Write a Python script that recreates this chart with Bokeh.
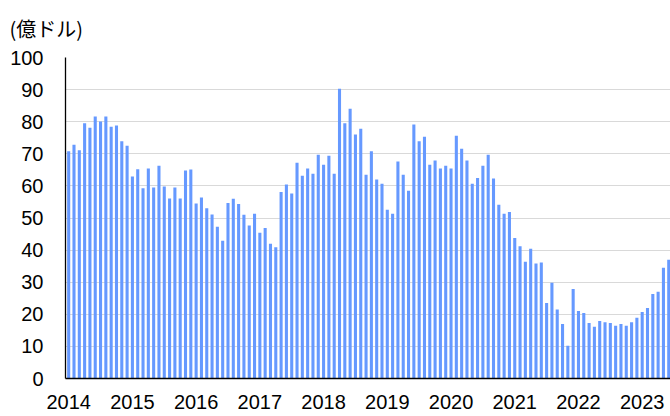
from bokeh.plotting import figure
from bokeh.models import FixedTicker, Range1d
from bokeh.embed import file_html
from bokeh.resources import INLINE

# Monthly values (億ドル), Jan 2014 - Jun 2023
v2014 = [70.8, 72.8, 71.1, 79.5, 78.1, 81.6, 80.1, 81.6, 78.4, 78.8, 73.9, 72.5]
v2015 = [62.9, 65.2, 59.3, 65.4, 59.5, 66.3, 59.8, 56.1, 59.5, 56.1, 64.8, 65.1]
v2016 = [54.5, 56.4, 53.0, 51.1, 47.3, 42.9, 54.7, 56.0, 54.4, 51.0, 47.7, 51.3]
v2017 = [45.4, 46.9, 42.0, 40.9, 58.1, 60.4, 57.6, 67.2, 63.2, 65.4, 63.8, 69.7]
v2018 = [66.6, 69.4, 63.8, 90.3, 79.5, 84.0, 76.0, 77.8, 63.5, 70.8, 62.0, 60.7]
v2019 = [52.6, 51.3, 67.6, 63.5, 58.5, 79.1, 73.9, 75.3, 66.6, 67.9, 65.4, 66.3]
v2020 = [65.4, 75.6, 71.6, 67.9, 60.7, 62.5, 66.3, 69.7, 62.3, 54.1, 51.3, 51.9]
v2021 = [43.8, 41.2, 36.4, 40.4, 35.8, 36.1, 23.5, 29.8, 21.5, 17.0, 10.2, 27.9]
v2022 = [21.0, 20.4, 17.3, 16.1, 17.9, 17.5, 17.3, 16.4, 17.0, 16.4, 17.5, 18.9]
v2023 = [20.7, 22.0, 26.3, 27.0, 34.5, 37.0]

year_labels = ["2014", "2015", "2016", "2017", "2018", "2019", "2020", "2021", "2022", "2023"]
y_ticks = [0, 10, 20, 30, 40, 50, 60, 70, 80, 90, 100]

values = v2014 + v2015 + v2016 + v2017 + v2018 + v2019 + v2020 + v2021 + v2022 + v2023
months = list(range(len(values)))
year_ticks = [12 * i for i in range(len(year_labels))]

FONT = "Liberation Sans"

p = figure(width=670, height=416, output_backend="svg", toolbar_location=None,
           x_range=Range1d(-0.6, 113.33), y_range=Range1d(0, 100),
           min_border_left=65, min_border_right=0, min_border_top=56, min_border_bottom=38)

p.vbar(x=months, top=values, width=0.58, bottom=0, fill_color="#6699ff", line_color=None)

p.title.text = "(億ドル)"
p.title.text_font = "Noto Sans CJK JP"
p.title.text_font_size = "20px"
p.title.text_font_style = "normal"
p.title.text_color = "#000000"
p.title.align = "left"
p.title.vertical_align = "top"
p.title.offset = -56
p.title.standoff = 26

p.outline_line_color = None
p.xgrid.grid_line_color = None
p.ygrid.grid_line_color = "#d9d9d9"
p.ygrid.grid_line_width = 1

p.yaxis.ticker = FixedTicker(ticks=y_ticks)
p.yaxis.major_tick_out = 0
p.yaxis.major_tick_in = 0
p.yaxis.minor_tick_line_color = None
p.yaxis.major_label_standoff = 22
p.yaxis.axis_line_color = "#000000"
p.yaxis.axis_line_width = 1.3
p.yaxis.major_label_text_font = FONT
p.yaxis.major_label_text_font_size = "20px"
p.yaxis.major_label_text_color = "#000000"

p.xaxis.ticker = FixedTicker(ticks=year_ticks)
p.xaxis.major_label_overrides = {t: lab for t, lab in zip(year_ticks, year_labels)}
p.xaxis.major_tick_out = 0
p.xaxis.major_tick_in = 0
p.xaxis.minor_tick_line_color = None
p.xaxis.major_label_standoff = 16
p.xaxis.axis_line_color = "#000000"
p.xaxis.axis_line_width = 1.3
p.xaxis.major_label_text_font = FONT
p.xaxis.major_label_text_font_size = "20px"
p.xaxis.major_label_text_color = "#000000"

open("out.html", "w").write(file_html(p, INLINE))
